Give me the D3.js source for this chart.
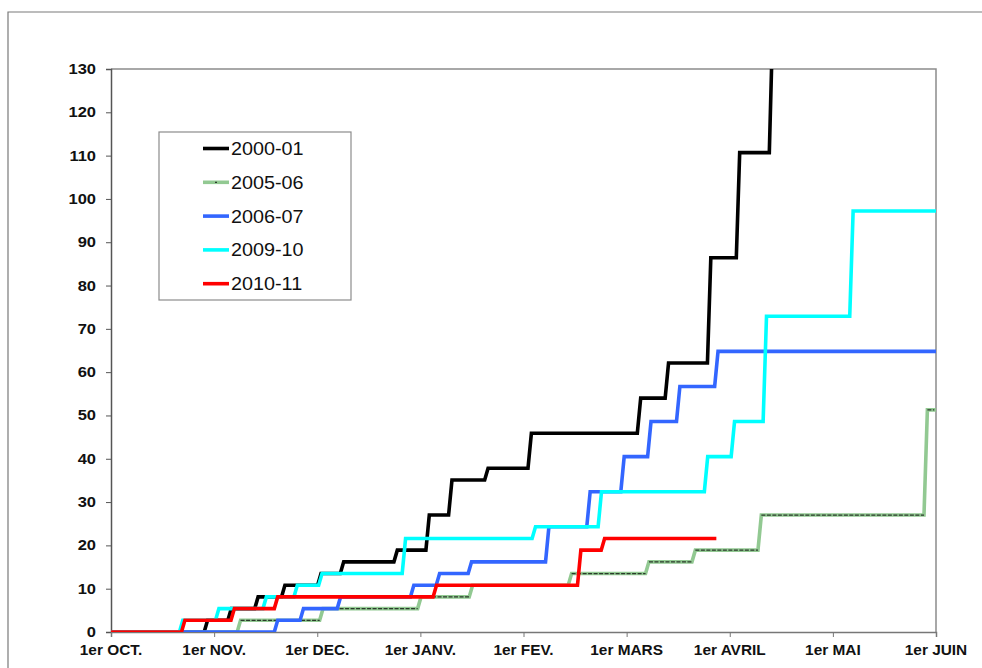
<!DOCTYPE html>
<html>
<head>
<meta charset="utf-8">
<script src="https://cdn.jsdelivr.net/npm/d3@7"></script>
<style>
  body { margin: 0; background: #fff; }
  svg { display: block; }
</style>
</head>
<body>
<div id="chart"></div>
<script>
'use strict'

// ---------- data (x in months since 1er oct., y cumulative value) ----------
const seasons = ['2000-01', '2005-06', '2006-07', '2009-10', '2010-11']
const colors = ['#000000', '#92c992', '#3366ff', '#00ffff', '#ff0000']

const steps_2000_01 = [[0, 0], [0.92, 2.7], [1.15, 5.4], [1.41, 8.1], [1.67, 10.8], [2.02, 13.5], [2.24, 16.2],
  [2.76, 18.9], [3.07, 27], [3.29, 35.1], [3.64, 37.8], [4.06, 45.9], [5.12, 54], [5.39, 62.1],
  [5.80, 86.4], [6.08, 110.7], [6.40, 140]]
const steps_2005_06 = [[0, 0], [1.24, 2.7], [2.04, 5.4], [2.99, 8.1], [3.49, 10.8], [4.45, 13.5], [5.20, 16.2],
  [5.65, 18.9], [6.29, 27], [7.90, 51.3], [8, 51.3]]
const steps_2006_07 = [[0, 0], [1.60, 2.7], [1.85, 5.4], [2.21, 8.1], [2.92, 10.8], [3.17, 13.5], [3.48, 16.2],
  [4.23, 24.3], [4.63, 32.4], [4.96, 40.5], [5.22, 48.6], [5.50, 56.7], [5.87, 64.8], [8, 64.8]]
const steps_2009_10 = [[0, 0], [0.68, 2.7], [1.03, 5.4], [1.49, 8.1], [1.79, 10.8], [2.03, 13.5], [2.84, 21.6],
  [4.10, 24.3], [4.74, 32.4], [5.77, 40.5], [6.03, 48.6], [6.34, 72.9], [7.18, 97.2], [8, 97.2]]
const steps_2010_11 = [[0, 0], [0.70, 2.7], [1.18, 5.4], [1.60, 8.1], [3.14, 10.8], [4.54, 18.9], [4.77, 21.6],
  [5.87, 21.6]]

const monthLabels = ['1er OCT.', '1er NOV.', '1er DEC.', '1er JANV.', '1er FEV.', '1er MARS', '1er AVRIL', '1er MAI', '1er JUIN']
const yTicks = d3.range(0, 131, 10)

const series = [steps_2000_01, steps_2005_06, steps_2006_07, steps_2009_10, steps_2010_11]

// ---------- svg setup ----------
const svgWidth = 982
const svgHeight = 668
const plot = { left: 111, right: 936, top: 69, bottom: 632 }

const svg = d3.select('#chart')
  .append('svg')
  .attr('width', svgWidth)
  .attr('height', svgHeight)

// outer frame
svg.append('path')
  .attr('d', `M8,${svgHeight + 2} L8,12 L${svgWidth + 2},12`)
  .attr('fill', 'none')
  .attr('stroke', '#7a7a7a')
  .attr('stroke-width', 1.2)

// ---------- scales ----------
const xScale = d3.scaleLinear().domain([0, 8]).range([plot.left, plot.right])
const yScale = d3.scaleLinear().domain([0, 130]).range([plot.bottom, plot.top])

// plot area border
svg.append('path')
  .attr('d', `M${plot.left},${plot.top} L${plot.right},${plot.top} L${plot.right},${plot.bottom}`)
  .attr('fill', 'none')
  .attr('stroke', '#8c8c8c')
  .attr('stroke-width', 1.5)

// ---------- axes ----------
const yAxis = svg.append('g')
  .attr('transform', `translate(${plot.left},0)`)
  .call(d3.axisLeft(yScale).tickValues(yTicks).tickSize(5).tickFormat(''))
yAxis.select('.domain').attr('stroke', '#555').attr('stroke-width', 1.5)
yAxis.selectAll('.tick line').attr('stroke', '#555')

svg.selectAll('.ylab')
  .data(yTicks)
  .join('text')
  .attr('class', 'ylab')
  .attr('transform', d => `translate(96,${yScale(d) + 5}) scale(1.1,1)`)
  .attr('text-anchor', 'end')
  .attr('font-family', 'Liberation Sans, Arial, sans-serif')
  .attr('font-weight', 'bold')
  .attr('font-size', 15)
  .attr('fill', '#111')
  .text(d => d)

const xAxis = svg.append('g')
  .attr('transform', `translate(0,${plot.bottom})`)
  .call(d3.axisBottom(xScale).tickValues(d3.range(0, 9)).tickSize(5).tickFormat(''))
xAxis.select('.domain').attr('stroke', '#777').attr('stroke-width', 1.5)
xAxis.selectAll('.tick line').attr('stroke', '#777')

svg.selectAll('.xlab')
  .data(monthLabels)
  .join('text')
  .attr('class', 'xlab')
  .attr('transform', (d, i) => `translate(${xScale(i)},655) scale(1.1,1)`)
  .attr('text-anchor', 'middle')
  .attr('font-family', 'Liberation Sans, Arial, sans-serif')
  .attr('font-weight', 'bold')
  .attr('font-size', 14)
  .attr('fill', '#111')
  .text(d => d)

// ---------- lines ----------
svg.append('clipPath')
  .attr('id', 'clip')
  .append('rect')
  .attr('x', plot.left)
  .attr('y', plot.top)
  .attr('width', plot.right - plot.left)
  .attr('height', plot.bottom - plot.top)

const half = 0.5 / 30.4   // half a day, in months

// turn change points into a step path with slightly slanted risers
function stepPoints(steps) {
  const pts = [steps[0]]
  for (let i = 1; i < steps.length; i++) {
    const [m, v] = steps[i]
    const prev = steps[i - 1][1]
    if (v !== prev) {
      pts.push([m - half, prev])
      pts.push([m + half, v])
    } else {
      pts.push([m, v])
    }
  }
  return pts
}

const line = d3.line()
  .x(d => xScale(d[0]))
  .y(d => yScale(d[1]))

const lines = svg.append('g').attr('clip-path', 'url(#clip)')

series.forEach((s, i) => {
  lines.append('path')
    .attr('d', line(stepPoints(s)))
    .attr('fill', 'none')
    .attr('stroke', colors[i])
    .attr('stroke-width', 3.6)
    .attr('stroke-linejoin', 'miter')

  // 2005-06 has a thin dark dashed marker line on its flat parts
  if (i === 1) {
    const flats = s.slice(0, -1).map((d, j) => [
      [d[0] + (j ? half : 0), d[1]],
      [s[j + 1][0] - half, d[1]]
    ])
    lines.selectAll('.flat')
      .data(flats)
      .join('path')
      .attr('class', 'flat')
      .attr('d', d => line(d))
      .attr('fill', 'none')
      .attr('stroke', '#2b3a2b')
      .attr('stroke-width', 1.2)
      .attr('stroke-dasharray', '4,1.5')
  }
})

// ---------- legend ----------
const legend = svg.append('g')

legend.append('rect')
  .attr('x', 159)
  .attr('y', 132)
  .attr('width', 192)
  .attr('height', 168)
  .attr('fill', '#fff')
  .attr('stroke', '#8c8c8c')
  .attr('stroke-width', 1.2)

const items = legend.selectAll('.item')
  .data(seasons)
  .join('g')
  .attr('class', 'item')
  .attr('transform', (d, i) => `translate(0,${148.5 + i * 33.8})`)

items.append('line')
  .attr('x1', 203)
  .attr('x2', 229)
  .attr('stroke', (d, i) => colors[i])
  .attr('stroke-width', 3.6)

items.filter((d, i) => i === 1)
  .append('line')
  .attr('x1', 215)
  .attr('x2', 217)
  .attr('stroke', '#2b3a2b')
  .attr('stroke-width', 1.2)

items.append('text')
  .attr('transform', 'translate(231,6.5) scale(1.1,1)')
  .attr('font-family', 'Liberation Sans, Arial, sans-serif')
  .attr('font-size', 18)
  .attr('fill', '#111')
  .text(d => d)
</script>
</body>
</html>
